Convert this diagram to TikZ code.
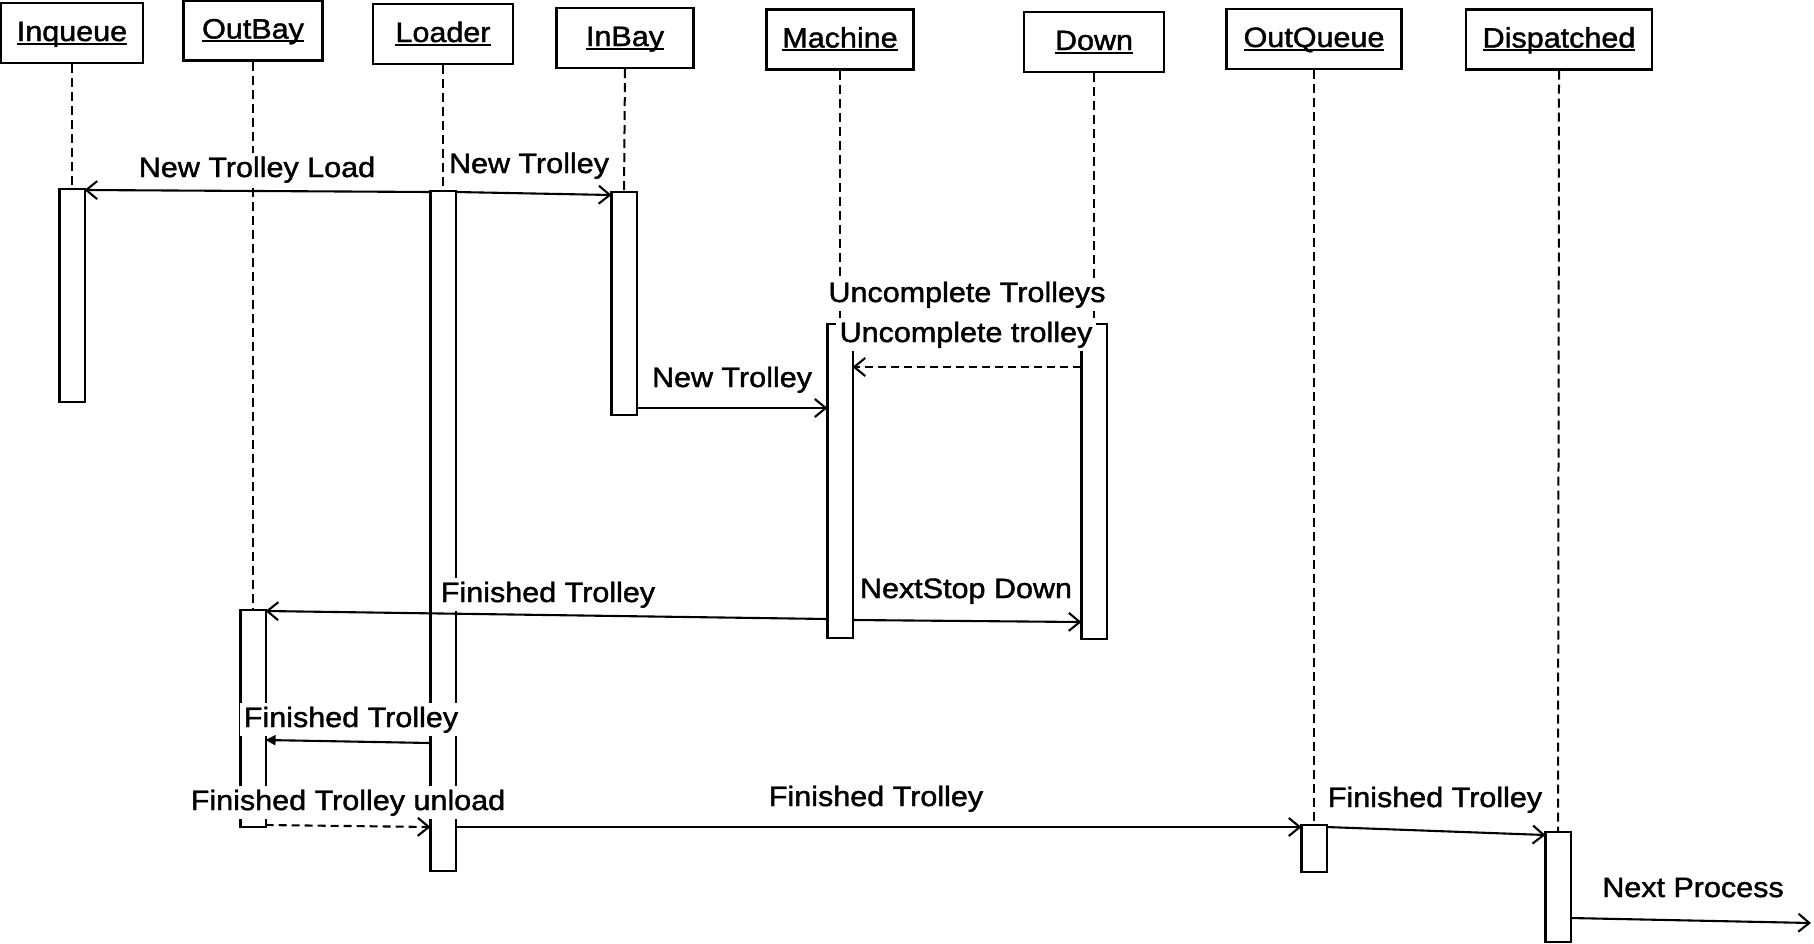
\documentclass[tikz,border=0pt]{standalone}
\usepackage{fontspec}
\setmainfont{Liberation Sans}[FakeStretch=1.09,FakeBold=1.5]
\usetikzlibrary{arrows.meta}
% underlined object name for the lifeline heads
\newcommand\headtext[1]{\setbox0\hbox{#1}\rlap{\rule[-3.5pt]{\wd0}{2pt}}\box0}

\begin{document}
\begin{tikzpicture}[x=1pt,y=-1pt,line width=2.1pt,
  every node/.style={font=\fontsize{28}{33}\selectfont},
  head/.style={draw,fill=white,minimum height=60pt,text height=16pt,text depth=0pt,inner sep=0pt},
  life/.style={line width=2pt,dash pattern=on 9pt off 5pt},
  act/.style={draw,fill=white,minimum width=23pt,inner sep=0pt},
  msg/.style={-{Straight Barb[length=11pt,width=18pt]}},
  reply/.style={msg,dash pattern=on 8pt off 5pt},
  call/.style={-{Triangle[length=10pt,width=10pt]}},
  lbl/.style={fill=white,inner sep=3.5pt,anchor=base}]

\useasboundingbox (0,0) rectangle (1814,943);

% object heads
\node[head,minimum width=142pt] (inqueue)    at (72,33)     {\headtext{Inqueue}};
\node[head,minimum width=139pt] (outbay)     at (253,30.5)  {\headtext{OutBay}};
\node[head,minimum width=140pt] (loader)     at (443,34)    {\headtext{Loader}};
\node[head,minimum width=137pt] (inbay)      at (625,38)    {\headtext{InBay}};
\node[head,minimum width=147pt] (machine)    at (840,39.5)  {\headtext{Machine}};
\node[head,minimum width=140pt] (down)       at (1094,42)   {\headtext{Down}};
\node[head,minimum width=175pt] (outqueue)   at (1314,39)   {\headtext{OutQueue}};
\node[head,minimum width=186pt] (dispatched) at (1559,39.5) {\headtext{Dispatched}};

% activation bars
\node[act,minimum height=211pt] (aInq)  at (72,295.5)  {};
\node[act,minimum height=678pt] (aLoad) at (443,531)   {};
\node[act,minimum height=221pt] (aInB)  at (624,303.5) {};
\node[act,minimum height=312pt] (aMach) at (840,481)   {};
\node[act,minimum height=313pt] (aDown) at (1094,481.5){};
\node[act,minimum height=215pt] (aOutB) at (253,718.5) {};
\node[act,minimum height=45pt]  (aOutQ) at (1314,848.5){};
\node[act,minimum height=108pt] (aDisp) at (1558,887)  {};

% lifelines
\draw[life] (inqueue.south)    -- (aInq.north);
\draw[life] (outbay.south)     -- (aOutB.north);
\draw[life] (loader.south)     -- (aLoad.north);
\draw[life] (inbay.south)      -- (aInB.north);
\draw[life] (machine.south)    -- (aMach.north);
\draw[life] (down.south)       -- (aDown.north);
\draw[life] (outqueue.south)   -- (aOutQ.north);
\draw[life] (dispatched.south) -- (aDisp.north);

% redraw the bars over the lifelines
\foreach \b in {aInq,aLoad,aInB,aMach,aDown,aOutB,aOutQ,aDisp}
  \draw[fill=white] (\b.north west) rectangle (\b.south east);

% message labels
\node[lbl] (lNTL) at (257,177)  {New Trolley Load};
\node[lbl] (lNT1) at (529,173)  {New Trolley};
\node[lbl] (lNT2) at (732,387)  {New Trolley};
\node[lbl] (lUTs) at (967,302)  {Uncomplete Trolleys};
\node[lbl] (lUT)  at (966,342)  {Uncomplete trolley};
\node[lbl] (lFT1) at (548,602)  {Finished Trolley};
\node[lbl] (lNSD) at (966,598)  {NextStop Down};
\node[lbl] (lFT2) at (351,727)  {Finished Trolley};
\node[lbl] (lFTU) at (348,810)  {Finished Trolley unload};
\node[lbl] (lFT3) at (876,806)  {Finished Trolley};
\node[lbl] (lFT4) at (1435,807) {Finished Trolley};
\node[lbl] (lNP)  at (1693,897) {Next Process};

% messages
\coordinate (npEnd) at (1811,923);
\draw[msg]   (aLoad.west |- 0,192) -- (aInq.east |- 0,190);
\draw[msg]   (aLoad.east |- 0,192) -- (aInB.west |- 0,195);
\draw[msg]   (aInB.east |- 0,408)  -- (aMach.west |- 0,408);
\draw[reply] (aDown.west |- 0,367) -- (aMach.east |- 0,367);
\draw[msg]   (aMach.west |- 0,619) -- (aOutB.east |- 0,611);
\draw[msg]   (aMach.east |- 0,620) -- (aDown.west |- 0,622);
\draw[call]  (aLoad.west |- 0,743) -- (aOutB.east |- 0,740);
\draw[reply] (aOutB.east |- 0,825) -- (aLoad.west |- 0,827);
\draw[msg]   (aLoad.east |- 0,827) -- (aOutQ.west |- 0,827);
\draw[msg]   (aOutQ.east |- 0,827) -- (aDisp.west |- 0,835);
\draw[msg]   (aDisp.east |- 0,918) -- (npEnd);
\end{tikzpicture}
\end{document}
